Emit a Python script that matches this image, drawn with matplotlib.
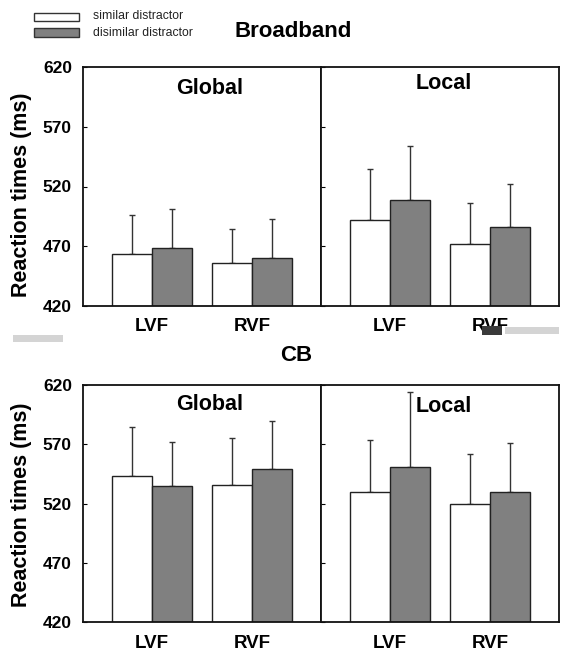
import matplotlib
matplotlib.use("Agg")
import matplotlib.pyplot as plt
from matplotlib.patches import Rectangle
import numpy as np

plt.rcParams['font.family'] = ['Liberation Sans', 'DejaVu Sans']

# ---- data ----
fields = ["LVF", "RVF"]
conditions = ["similar distractor", "disimilar distractor"]
yticks = [420, 470, 520, 570, 620]

bb_global_sim = [463, 456]
bb_global_sim_err = [33, 28]
bb_global_dis = [468, 460]
bb_global_dis_err = [33, 33]
bb_local_sim = [492, 472]
bb_local_sim_err = [43, 34]
bb_local_dis = [509, 486]
bb_local_dis_err = [45, 36]

cb_global_sim = [543, 536]
cb_global_sim_err = [42, 39]
cb_global_dis = [535, 549]
cb_global_dis_err = [37, 41]
cb_local_sim = [530, 520]
cb_local_sim_err = [44, 42]
cb_local_dis = [551, 530]
cb_local_dis_err = [63, 41]

W, H = 562, 653
fig = plt.figure(figsize=(W / 100, H / 100), dpi=100)


def fx(x):
    return x / W


def fy(y):
    return 1 - y / H


colors = ["white", "#808080"]
edge = "#222222"
bw = 0.4


def draw(ax, sim, sim_err, dis, dis_err, title, title_y, title_x, show_y):
    x = np.arange(len(fields))
    ax.bar(x - bw / 2, sim, bw, color=colors[0], edgecolor=edge, linewidth=1.0, zorder=2)
    ax.bar(x + bw / 2, dis, bw, color=colors[1], edgecolor=edge, linewidth=1.0, zorder=2)
    ax.errorbar(x - bw / 2, sim, yerr=[np.zeros(len(sim)), sim_err], fmt='none',
                ecolor="#333333", elinewidth=1.0, capsize=2.5, capthick=1.0, zorder=1)
    ax.errorbar(x + bw / 2, dis, yerr=[np.zeros(len(dis)), dis_err], fmt='none',
                ecolor="#333333", elinewidth=1.0, capsize=2.5, capthick=1.0, zorder=1)
    ax.set_xlim(-0.69, 1.69)
    ax.set_ylim(420, 620)
    ax.set_yticks(yticks)
    ax.set_xticks(x)
    ax.set_xticklabels(fields, fontsize=13.5, fontweight='bold')
    ax.tick_params(axis='x', length=0, pad=9)
    ax.tick_params(axis='y', direction='in', length=3, width=0.8, pad=8)
    if show_y:
        ax.set_yticklabels([str(t) for t in yticks], fontsize=12.5, fontweight='bold')
    else:
        ax.set_yticklabels([])
    for s in ax.spines.values():
        s.set_linewidth(1.3)
        s.set_color("#111111")
    ax.text(title_x, title_y, title, transform=ax.transAxes, ha='center', va='center',
            fontsize=15.5, fontweight='bold')


left, mid, right = 83, 321, 559
t_top, t_bot = 67.3, 305.7
b_top, b_bot = 385.0, 622.3

ax1 = fig.add_axes([fx(left), fy(t_bot), fx(mid - left), (t_bot - t_top) / H])
ax2 = fig.add_axes([fx(mid), fy(t_bot), fx(right - mid), (t_bot - t_top) / H])
ax3 = fig.add_axes([fx(left), fy(b_bot), fx(mid - left), (b_bot - b_top) / H])
ax4 = fig.add_axes([fx(mid), fy(b_bot), fx(right - mid), (b_bot - b_top) / H])

draw(ax1, bb_global_sim, bb_global_sim_err, bb_global_dis, bb_global_dis_err, "Global", 0.912, 0.53, True)
draw(ax2, bb_local_sim, bb_local_sim_err, bb_local_dis, bb_local_dis_err, "Local", 0.933, 0.515, False)
draw(ax3, cb_global_sim, cb_global_sim_err, cb_global_dis, cb_global_dis_err, "Global", 0.916, 0.53, True)
draw(ax4, cb_local_sim, cb_local_sim_err, cb_local_dis, cb_local_dis_err, "Local", 0.909, 0.515, False)

# titles
fig.text(fx(293.5), fy(31.7), "Broadband", ha='center', va='center', fontsize=16, fontweight='bold')
fig.text(fx(296.5), fy(355), "CB", ha='center', va='center', fontsize=16, fontweight='bold')

# y labels
fig.text(fx(21.7), fy(195), "Reaction times (ms)", rotation=90, ha='center', va='center',
         fontsize=15.5, fontweight='bold')
fig.text(fx(21.7), fy(505), "Reaction times (ms)", rotation=90, ha='center', va='center',
         fontsize=15.5, fontweight='bold')

# legend
for (y0, y1), c, lab, ty in [((12.7, 21.0), colors[0], conditions[0], 15.7),
                              ((28.3, 37.3), colors[1], conditions[1], 32.7)]:
    fig.patches.append(Rectangle((fx(34), fy(y1)), fx(79 - 34), (y1 - y0) / H,
                                 transform=fig.transFigure, facecolor=c, edgecolor="#333333",
                                 linewidth=1.0))
    fig.text(fx(93.3), fy(ty), lab, ha='left', va='center', fontsize=8.8, color="#222222")

# scan artifacts in the reference image
fig.patches.append(Rectangle((fx(13), fy(342)), fx(50), 7 / H, transform=fig.transFigure,
                             facecolor="#d4d4d4", edgecolor='none'))
fig.patches.append(Rectangle((fx(505), fy(334)), fx(54), 7 / H, transform=fig.transFigure,
                             facecolor="#d4d4d4", edgecolor='none', zorder=5))
fig.patches.append(Rectangle((fx(482), fy(335)), fx(20), 9 / H, transform=fig.transFigure,
                             facecolor="#3a3a3a", edgecolor='none', zorder=5))

fig.savefig("out.png", dpi=100)
